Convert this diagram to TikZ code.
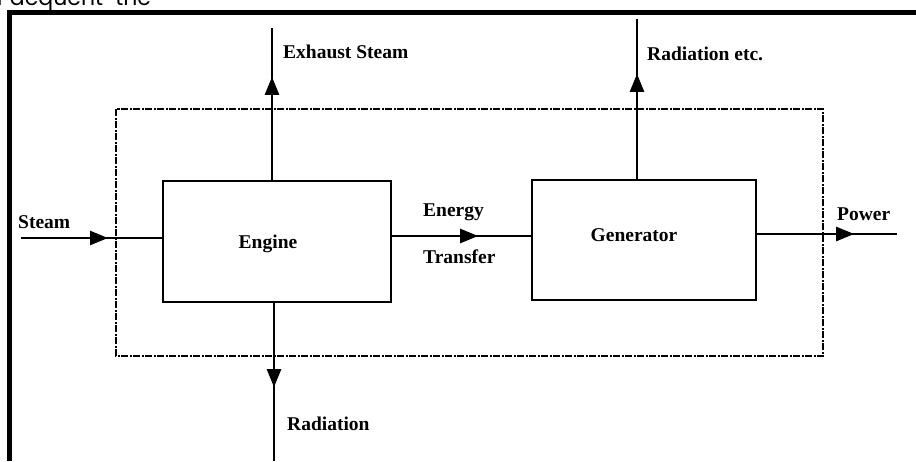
\documentclass[tikz,border=0pt]{standalone}
\usepackage{fontspec}
\setmainfont{Liberation Serif}
\newfontfamily\topfont{Poppins}
\usetikzlibrary{arrows.meta,decorations.markings}
\tikzset{
  blk/.style={draw, line width=2.4pt, rectangle, inner sep=0pt},
  lbl/.style={font=\fontsize{19.5}{21}\selectfont\bfseries, inner sep=0pt},
  flow/.style={line width=2.4pt},
  midtip/.style={postaction={decorate, decoration={markings,
     mark=at position #1 with {\arrow{Triangle[length=18pt,width=14pt]}}}}},
  sysbox/.style={line width=2pt, dash pattern=on 7pt off 1.5pt on 2pt off 1.5pt}
}
\begin{document}
\begin{tikzpicture}[x=1pt,y=-1pt]
\useasboundingbox (0,0) rectangle (916,461);
\begin{scope}
\clip (0,0) rectangle (916,461);
\node[anchor=base west, inner sep=0pt, font=\topfont\fontsize{22}{24}\selectfont] (cut) at (-3,5) {Pdequent-the};
\end{scope}
% outer frame
\draw[line width=4.5pt] (9.5,461) -- (9.5,12.5) -- (916,12.5);
% system boundary
\draw[sysbox] (116,109) rectangle (823,356);
% blocks
\node[blk, minimum width=228pt, minimum height=121pt] (engine) at (277,241.5) {};
\node[blk, minimum width=224pt, minimum height=120pt] (gen) at (644,240) {};
\node[lbl, anchor=base] (englbl) at (268,248) {Engine};
\node[lbl, anchor=base] (genlbl) at (634,241) {Generator};
% coordinates
\coordinate (steamin) at (21,238);
\coordinate (et) at (460,236);
\coordinate (powout) at (897,234);
\coordinate (exh) at (272,28);
\coordinate (radetc) at (637,19);
\coordinate (radout) at (274,461);
% connectors
\draw[flow, midtip=87pt] (steamin) -- (steamin -| engine.west);
\draw[flow, midtip=86pt] (et -| engine.east) -- (et -| gen.west);
\draw[flow, midtip=97pt] (powout -| gen.east) -- (powout);
\draw[flow, midtip=103pt] (exh |- engine.north) -- (exh);
\draw[flow, midtip=105pt] (radetc |- gen.north) -- (radetc);
\draw[flow, midtip=84pt] (radout |- engine.south) -- (radout);
% labels
\node[lbl, anchor=base west] (lsteam) at (18,228) {Steam};
\node[lbl, anchor=base west] (lexh) at (283,58) {Exhaust Steam};
\node[lbl, anchor=base west] (lradetc) at (647,60) {Radiation etc.};
\node[lbl, anchor=base west] (lenergy) at (423,216) {Energy};
\node[lbl, anchor=base west] (ltrans) at (423,263) {Transfer};
\node[lbl, anchor=base west] (lpower) at (837,220) {Power};
\node[lbl, anchor=base west] (lrad) at (287,430) {Radiation};
\end{tikzpicture}
\end{document}
